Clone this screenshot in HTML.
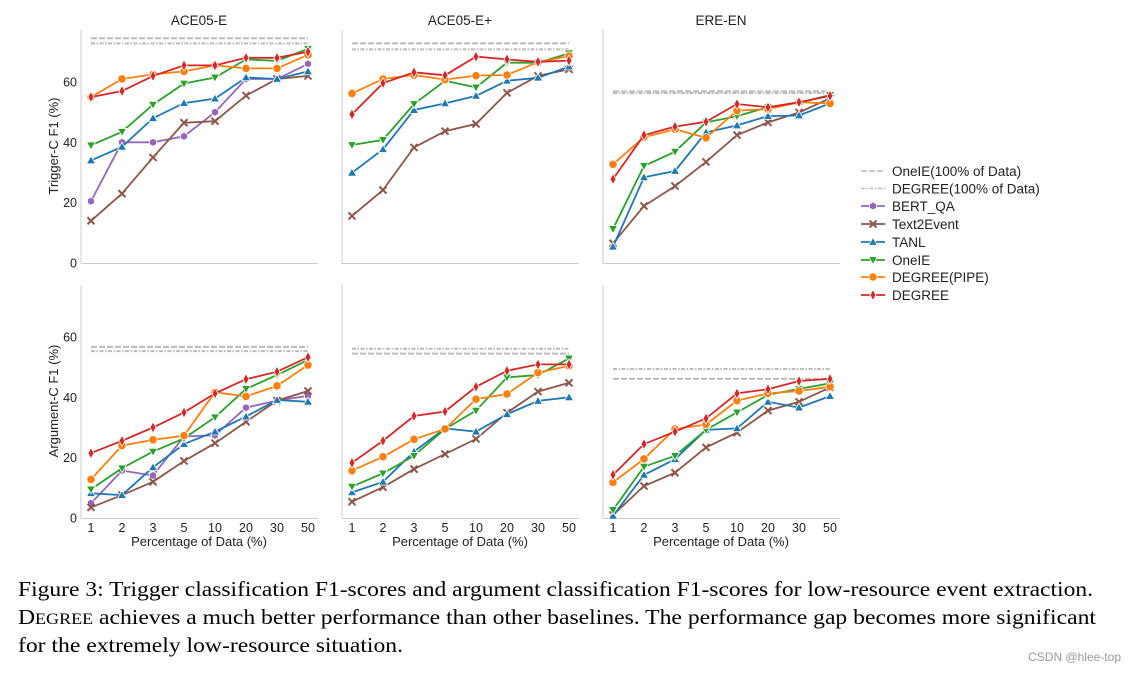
<!DOCTYPE html>
<html><head><meta charset="utf-8"><style>
html,body{margin:0;padding:0;background:#fff;}
svg{display:block;font-family:"Liberation Sans",sans-serif;}
.cap{font-family:"Liberation Serif",serif;font-size:21px;fill:#000;}
</style></head><body>
<svg id="fig" width="1137" height="673" viewBox="0 0 1137 673"></svg>
<script>
const xTickLabels = ['1','2','3','5','10','20','30','50'];
const yTickLabels = [0,20,40,60];
const datasets = ['ACE05-E','ACE05-E+','ERE-EN'];
// Trigger-C F1
const trigDEGREE = [[55,57,62,65.5,65.5,68,68,70],[49.3,59.6,63.2,62.2,68.4,67.5,66.7,67.1],[27.8,42.4,45.2,46.8,52.7,51.6,53.3,55.4]];
const trigPIPE = [[55,61,62.5,63.5,65.5,64.5,64.5,69],[56.2,61,62.3,60.8,62.1,62.3,66.6,68.6],[32.7,41.7,44.3,41.5,50.5,51,53.3,52.9]];
const trigOneIE = [[39,43.5,52.5,59.5,61.5,67.5,67,71],[39.1,40.8,52.7,60.4,58.2,66.4,66.4,69.5],[11.3,32.2,36.9,46.6,48.7,51.6,53.1,55.7]];
const trigTANL = [[34,38.5,48,53,54.5,61.5,61,63.5],[29.9,37.7,50.7,52.9,55.4,60.4,61.4,65.1],[5.4,28.4,30.5,43.3,45.6,48.7,48.9,52.9]];
const trigBERTQA = [[20.5,40,40,42,50,61,61,66],null,null];
const trigText2Event = [[14,23,35,46.5,47,55.5,61,62],[15.6,24.2,38.3,43.7,46.1,56.4,62,64.2],[6.5,18.9,25.5,33.5,42.4,46.6,49.9,54.6]];
const trigOneIEFull = [74.5,72.8,56.9];
const trigDEGREEFull = [72.8,70.8,56.3];
// Argument-C F1
const argDEGREE = [[21.5,25.6,30,35,41.3,46,48.5,53.3],[18.3,25.6,33.8,35.3,43.5,48.8,50.9,50.9],[14.3,24.5,28.6,33,41.3,42.7,45.4,46.1]];
const argPIPE = [[12.8,24,25.9,27.3,41.7,40.3,43.8,50.7],[15.7,20.3,26.1,29.5,39.4,41.1,48.2,50.4],[11.8,19.6,29.5,31,38.9,41.3,42.1,43.5]];
const argOneIE = [[9.5,16.5,22,26.4,33.4,42.8,47.4,52.4],[10.4,14.8,20.6,29.5,35.6,46.6,47.4,52.9],[2.7,17,20.6,29.2,35,40.8,42.8,44.6]];
const argTANL = [[8.2,7.6,16.8,24.5,28.6,33.6,39.1,38.5],[8.5,12,22,29.7,28.6,34.4,38.8,40],[0.7,14.3,19.5,29.2,29.7,38.5,36.6,40.4]];
const argBERTQA = [[4.9,15.7,14.1,27,27.4,36.6,38.9,40.5],null,null];
const argText2Event = [[3.5,7.6,12,18.9,24.8,31.9,38.9,42.1],[5.4,10.2,16.2,21.2,26.2,34.9,41.9,44.8],[1,10.6,15,23.4,28.3,35.6,38.5,43.3]];
const argOneIEFull = [56.7,54.5,46.1];
const argDEGREEFull = [55.3,56.1,49.4];

const NS='http://www.w3.org/2000/svg';
const svg=document.getElementById('fig');
function mk(tag,attrs,parent){const e=document.createElementNS(NS,tag);for(const k in attrs)e.setAttribute(k,attrs[k]);(parent||svg).appendChild(e);return e;}

const series=[
 {key:'BERTQA',name:'BERT_QA',color:'#9467bd',marker:'hex'},
 {key:'Text2Event',name:'Text2Event',color:'#8c564b',marker:'x'},
 {key:'TANL',name:'TANL',color:'#1f77b4',marker:'tri'},
 {key:'OneIE',name:'OneIE',color:'#2ca02c',marker:'trid'},
 {key:'PIPE',name:'DEGREE(PIPE)',color:'#ff7f0e',marker:'circ'},
 {key:'DEGREE',name:'DEGREE',color:'#d62728',marker:'dia'}
];
const dataT={DEGREE:trigDEGREE,PIPE:trigPIPE,OneIE:trigOneIE,TANL:trigTANL,BERTQA:trigBERTQA,Text2Event:trigText2Event};
const dataA={DEGREE:argDEGREE,PIPE:argPIPE,OneIE:argOneIE,TANL:argTANL,BERTQA:argBERTQA,Text2Event:argText2Event};

function marker(g,type,x,y,color){
  let e;
  if(type==='circ') e=mk('circle',{cx:x,cy:y,r:4.2,fill:color,stroke:'#fff','stroke-width':0.8},g);
  else if(type==='hex'){let p=[];for(let i=0;i<6;i++){const a=Math.PI/6+i*Math.PI/3;p.push((x+4*Math.cos(a)).toFixed(1)+','+(y+4*Math.sin(a)).toFixed(1));}e=mk('polygon',{points:p.join(' '),fill:color,stroke:'#fff','stroke-width':0.8},g);}
  else if(type==='tri') e=mk('polygon',{points:`${x},${y-4.5} ${x+4.5},${y+3.3} ${x-4.5},${y+3.3}`,fill:color,stroke:'#fff','stroke-width':0.8},g);
  else if(type==='trid') e=mk('polygon',{points:`${x},${y+4.5} ${x+4.5},${y-3.3} ${x-4.5},${y-3.3}`,fill:color,stroke:'#fff','stroke-width':0.8},g);
  else if(type==='dia') e=mk('polygon',{points:`${x},${y-5.5} ${x+3},${y} ${x},${y+5.5} ${x-3},${y}`,fill:color,stroke:'#fff','stroke-width':0.8},g);
  else e=mk('path',{d:`M${x-3.5},${y-3.5}L${x+3.5},${y+3.5}M${x+3.5},${y-3.5}L${x-3.5},${y+3.5}`,stroke:color,'stroke-width':2,fill:'none'},g);
  
  
}

const panelLeft=[81,342,603];
const rows=[{y0:263,top:30,data:dataT,oneFull:trigOneIEFull,degFull:trigDEGREEFull,ylab:'Trigger-C F1 (%)',name:'trigger'},
            {y0:518,top:285,data:dataA,oneFull:argOneIEFull,degFull:argDEGREEFull,ylab:'Argument-C F1 (%)',name:'argument'}];
const ppu=3.017, xStep=31;

rows.forEach((row,ri)=>{
  panelLeft.forEach((L,pi)=>{
    const g=mk('g',{});
    
    
    const xs=i=>L+10+i*xStep;
    const ys=v=>row.y0-v*ppu;
    const R=L+237;
    mk('line',{x1:L,y1:row.top,x2:L,y2:row.y0+0.5,stroke:'#ccc','stroke-width':1},g);
    mk('line',{x1:L,y1:row.y0+0.5,x2:R,y2:row.y0+0.5,stroke:'#ccc','stroke-width':1},g);
    if(pi===0){
      yTickLabels.forEach(t=>{const tx=mk('text',{x:L-4,y:ys(t)+4.5,'text-anchor':'end','font-size':12.5,fill:'#222'},g);tx.textContent=t;
        });
      const yl=mk('text',{x:0,y:0,'font-size':13,fill:'#222','text-anchor':'middle',transform:`translate(${L-23},${row.y0-117}) rotate(-90)`},g);
      yl.textContent=row.ylab;
    }
    if(ri===0){const t=mk('text',{x:L+118,y:25,'text-anchor':'middle','font-size':13.5,fill:'#222'},g);t.textContent=datasets[pi];
      }
    if(ri===1){
      xTickLabels.forEach((t,i)=>{const tx=mk('text',{x:xs(i),y:532,'text-anchor':'middle','font-size':12.5,fill:'#222'},g);tx.textContent=t;
        });
      const xl=mk('text',{x:L+118,y:546,'text-anchor':'middle','font-size':13,fill:'#222'},g);xl.textContent='Percentage of Data (%)';
      
    }
    const r1=mk('line',{x1:xs(0),x2:xs(7),y1:ys(row.oneFull[pi]),y2:ys(row.oneFull[pi]),stroke:'#bbb','stroke-width':2,'stroke-dasharray':'6,2'},g);
    
    const r2=mk('line',{x1:xs(0),x2:xs(7),y1:ys(row.degFull[pi]),y2:ys(row.degFull[pi]),stroke:'#bbb','stroke-width':2,'stroke-dasharray':'4,1.5,1.5,1.5'},g);
    
    series.forEach(s=>{
      const vals=row.data[s.key][pi]; if(!vals) return;
      const pl=mk('polyline',{points:vals.map((v,i)=>xs(i)+','+ys(v).toFixed(1)).join(' '),fill:'none',stroke:s.color,'stroke-width':1.8},g);
      
      
      vals.forEach((v,i)=>marker(g,s.marker,xs(i),ys(v),s.color));
    });
  });
});

// legend
const lg=mk('g',{});


const legY=[171,188.5,206,224,242,260,277,295];
const legNames=['OneIE(100% of Data)','DEGREE(100% of Data)'].concat(series.map(s=>s.name));
legNames.forEach((n,i)=>{
  const y=legY[i];
  const e=mk('g',{},lg);
  
  
  if(i===0) mk('line',{x1:861,x2:885,y1:y,y2:y,stroke:'#bbb','stroke-width':1.5,'stroke-dasharray':'6,2'},e);
  else if(i===1) mk('line',{x1:861,x2:885,y1:y,y2:y,stroke:'#bbb','stroke-width':1.5,'stroke-dasharray':'4,1.5,1.5,1.5'},e);
  else {const s=series[i-2];mk('line',{x1:861,x2:885,y1:y,y2:y,stroke:s.color,'stroke-width':1.8},e);marker(e,s.marker,873,y,s.color);}
  const t=mk('text',{x:892,y:y+5,'font-size':13.5,fill:'#222'},e);t.textContent=n;
});

// caption
const capLines=[
 ['Figure 3: Trigger classification F1-scores and argument classification F1-scores for low-resource event extraction.',1075],
 [null,1078],
 ['for the extremely low-resource situation.',385]
];
const c1=mk('text',{x:18,y:596,class:'cap',textLength:1075,lengthAdjust:'spacingAndGlyphs'});c1.textContent=capLines[0][0];

const c2=mk('text',{x:18,y:624,class:'cap',textLength:1078,lengthAdjust:'spacingAndGlyphs'});

c2.innerHTML='D<tspan font-size="16">EGREE</tspan> achieves a much better performance than other baselines. The performance gap becomes more significant';
const c3=mk('text',{x:18,y:652,class:'cap',textLength:385,lengthAdjust:'spacingAndGlyphs'});c3.textContent=capLines[2][0];

const wm=mk('text',{x:1121,y:661,'text-anchor':'end','font-size':12,fill:'#999'});wm.textContent='CSDN @hlee-top';

</script>
</body></html>
